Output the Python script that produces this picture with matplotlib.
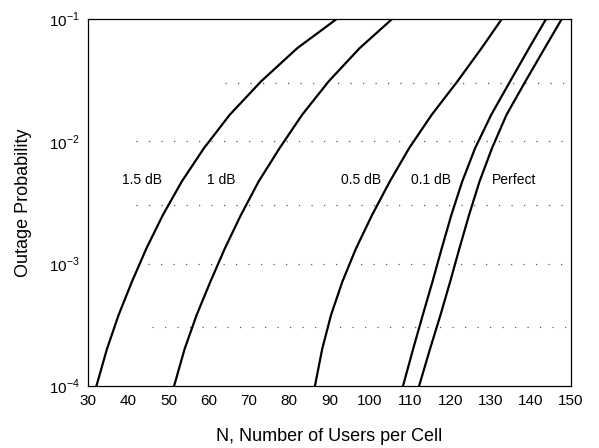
import numpy as np
from matplotlib import pyplot as plt

plt.rcParams['font.family'] = ['Liberation Sans', 'DejaVu Sans']
plt.rcParams['mathtext.fontset'] = 'custom'
plt.rcParams['mathtext.rm'] = 'Liberation Sans'

# outage probability levels where curves were read
prob = [1e-1, 5.8e-2, 3.1e-2, 1.65e-2, 8.8e-3, 4.7e-3, 2.5e-3,
        1.33e-3, 7.1e-4, 3.8e-4, 2.0e-4, 1e-4]

# N values (users per cell) for each power control error
n_15db = [91.7, 82.0, 73.0, 65.2, 58.8, 53.3, 48.6, 44.5, 40.9, 37.6, 34.7, 32.1]
n_1db = [105.5, 97.5, 89.8, 83.2, 77.6, 72.4, 68.0, 64.0, 60.4, 57.0, 54.0, 51.4]
n_05db = [132.8, 127.8, 121.8, 115.4, 109.8, 105.0, 100.6, 96.6, 93.2, 90.4, 88.2, 86.4]
n_01db = [143.8, 139.6, 134.9, 130.2, 126.2, 123.0, 120.3, 117.9, 115.6, 113.2, 110.8, 108.3]
n_perfect = [147.7, 143.5, 138.7, 134.0, 130.4, 127.3, 124.7, 122.3, 120.0, 117.6, 115.0, 112.3]

curve_labels = ['1.5 dB', '1 dB', '0.5 dB', '0.1 dB', 'Perfect']
label_x = [43.3, 63.2, 97.8, 115.2, 135.8]
label_y = 4.8e-3

# dotted reference lines (level, start of line)
grid_levels = [3e-2, 1e-2, 3e-3, 1e-3, 3e-4]
grid_start = [64, 42, 42, 45, 46]

xticks = list(range(30, 151, 10))
yticks = [1e-4, 1e-3, 1e-2, 1e-1]

fig = plt.figure(figsize=(5.99, 4.48), dpi=100)
ax = fig.add_axes([0.147, 0.139, 0.806, 0.818])

for g, s in zip(grid_levels, grid_start):
    ax.hlines(g, s, 150, colors='0.35', linestyles=(0, (1, 9)), linewidth=0.9)

for n in [n_15db, n_1db, n_05db, n_01db, n_perfect]:
    ax.plot(n, prob, color='black', linewidth=1.6)

for lab, x in zip(curve_labels, label_x):
    ax.text(x, label_y, lab, ha='center', va='center', fontsize=10)

ax.set_yscale('log')
ax.set_xlim(30, 150)
ax.set_ylim(1e-4, 1e-1)
ax.set_xticks(xticks)
ax.set_xticklabels([str(t) for t in xticks])
ax.set_yticks(yticks)
ax.set_yticklabels([r'$10^{-4}$', r'$10^{-3}$', r'$10^{-2}$', r'$10^{-1}$'])
ax.minorticks_off()
ax.tick_params(axis='both', direction='in', length=0, labelsize=11, pad=6)

for sp in ax.spines.values():
    sp.set_linewidth(0.9)

ax.set_xlabel('N, Number of Users per Cell', fontsize=13, labelpad=14)
ax.set_ylabel('Outage Probability', fontsize=13, labelpad=12)

plt.savefig('out.png', dpi=100)
